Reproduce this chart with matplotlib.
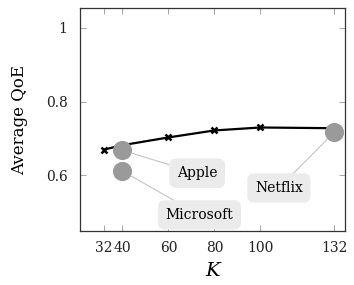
import matplotlib
matplotlib.use("Agg")
import matplotlib.pyplot as plt

plt.rcParams['font.family'] = ['DejaVu Serif']

k_values = [32, 40, 60, 80, 100, 132]
avg_qoe = [0.670, 0.682, 0.703, 0.722, 0.730, 0.728]

providers = ["Apple", "Microsoft", "Netflix"]
provider_k = [40, 40, 132]
provider_qoe = [0.668, 0.612, 0.717]
label_pos = [(72.5, 0.606), (73.5, 0.493), (108, 0.566)]

x_ticks = [32, 40, 60, 80, 100, 132]
x_ticklabels = ["32", "40", "60", "80", "100", "132"]
y_ticks = [0.6, 0.8, 1.0]
y_ticklabels = ["0.6", "0.8", "1"]

fig = plt.figure(figsize=(3.54, 2.85), dpi=100)
ax = fig.add_axes([0.226, 0.189, 0.749, 0.783])

ax.plot(k_values, avg_qoe, color='black', lw=1.6, marker='x', ms=5, mew=1.8, zorder=3)
ax.scatter(provider_k, provider_qoe, s=190, color='#9a9a9a', zorder=4, linewidths=0)

for name, px, py, (lx, ly) in zip(providers, provider_k, provider_qoe, label_pos):
    ax.annotate(name, xy=(px, py), xytext=(lx, ly),
                fontsize=10, ha='center', va='center', zorder=5,
                bbox=dict(boxstyle='round,pad=0.55,rounding_size=0.5', fc='#ebebeb', ec='none'),
                arrowprops=dict(arrowstyle='-', color='#c4c4c4', lw=0.8,
                                shrinkA=0, shrinkB=7))

ax.set_xlim(21.6, 136.8)
ax.set_ylim(0.449, 1.054)
ax.set_xticks(x_ticks)
ax.set_xticklabels(x_ticklabels)
ax.set_yticks(y_ticks)
ax.set_yticklabels(y_ticklabels)
ax.tick_params(direction='in', length=4, width=0.6, color='#999999', top=True, right=True,
               labelsize=10, pad=7, labelcolor='#222222')
ax.tick_params(axis='y', pad=9)
for s in ax.spines.values():
    s.set_linewidth(0.9)
    s.set_color('#333333')

ax.set_xlabel('K', fontsize=14, style='italic', labelpad=5)
ax.set_ylabel('Average QoE', fontsize=12, labelpad=13)

fig.savefig('out.png', dpi=100)
